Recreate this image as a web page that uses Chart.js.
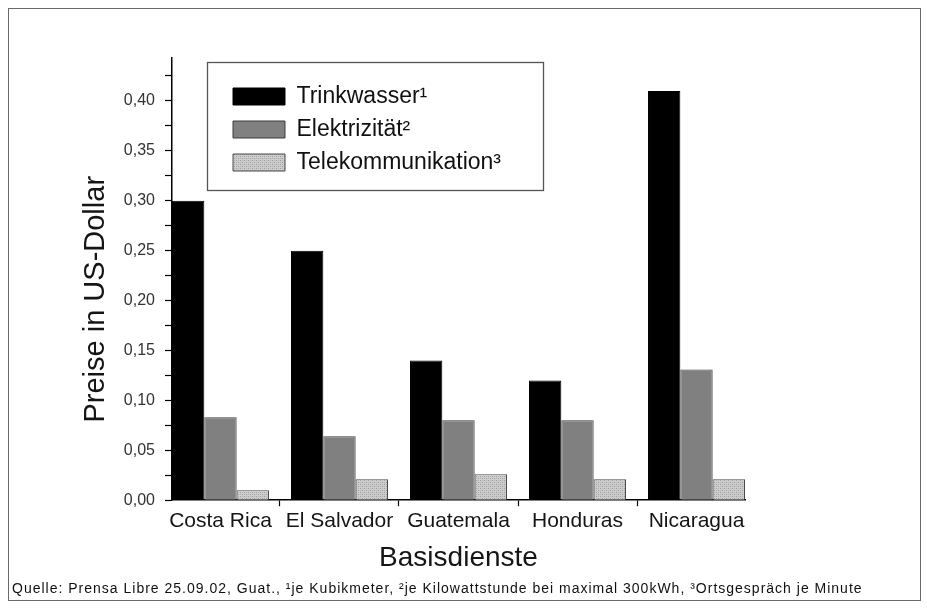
<!DOCTYPE html>
<html>
<head>
<meta charset="utf-8">
<script src="https://cdn.jsdelivr.net/npm/chart.js@4/dist/chart.umd.min.js"></script>
<style>
  html, body { margin: 0; padding: 0; background: #fff; }
  #frame { position: absolute; left: 8px; top: 8px; width: 913px; height: 593px; border: 1.5px solid #6a6a6a; box-sizing: border-box; }
  #wrap { position: absolute; left: 0; top: 0; width: 927px; height: 612px; }
  #note { position: absolute; left: 12px; top: 580px; font-family: "Liberation Sans", Arial, sans-serif; font-size: 14px; line-height: 16px; letter-spacing: 1px; color: #111; white-space: nowrap; }
</style>
</head>
<body>
<div id="frame"></div>
<div id="wrap"><canvas id="c" width="927" height="612"></canvas></div>
<div id="note">Quelle: Prensa Libre 25.09.02, Guat., ¹je Kubikmeter, ²je Kilowattstunde bei maximal 300kWh, ³Ortsgespräch je Minute</div>
<script>
// ---- data ----
const categories = ['Costa Rica', 'El Salvador', 'Guatemala', 'Honduras', 'Nicaragua'];
const seriesNames = ['Trinkwasser¹', 'Elektrizität²', 'Telekommunikation³'];
const trinkwasser = [0.30, 0.25, 0.14, 0.12, 0.41];
const elektrizitaet = [0.083, 0.064, 0.080, 0.080, 0.131];
const telekommunikation = [0.010, 0.021, 0.026, 0.021, 0.021];
const yTickValues = [0.00, 0.05, 0.10, 0.15, 0.20, 0.25, 0.30, 0.35, 0.40];
const yTickLabels = ['0,00', '0,05', '0,10', '0,15', '0,20', '0,25', '0,30', '0,35', '0,40'];

// ---- styles ----
const FONT = '"Liberation Sans", Arial, Helvetica, sans-serif';
function dotPattern() {
  const p = document.createElement('canvas');
  p.width = 4; p.height = 4;
  const g = p.getContext('2d');
  g.fillStyle = '#cdcdcd'; g.fillRect(0, 0, 4, 4);
  g.fillStyle = '#9c9c9c';
  g.fillRect(0, 0, 1, 1); g.fillRect(2, 2, 1, 1);
  g.fillStyle = '#b4b4b4';
  g.fillRect(2, 0, 1, 1); g.fillRect(0, 2, 1, 1);
  return document.getElementById('c').getContext('2d').createPattern(p, 'repeat');
}
const GROUP = 0.815;   // fraction of category spacing used by a bar group

const toPoints = arr => arr.map((v, i) => ({ x: i + 1, y: v }));

const legendFrame = {
  id: 'legendFrame',
  afterLayout(chart) {
    const lg = chart.legend, ca = chart.chartArea;
    if (!lg) return;
    lg.left = ca.left + 51; lg.right = lg.left + lg.width;
    lg.top = ca.top + 17;
  },
  afterDraw(chart) {
    const lg = chart.legend;
    if (!lg) return;
    const lo = lg.options.labels;
    const pad = lo.padding;
    const fs = lo.font.size;
    const boxH = lo.boxHeight;
    const n = lg.legendItems.length;
    const maxW = Math.max(...lg.legendHitBoxes.map(h => h.width));
    const x0 = lg.left + pad - 26;
    const y0 = lg.top + pad + (fs - boxH) / 2 - 26;
    const x1 = lg.left + pad + maxW + 42;
    const y1 = lg.top + pad + (fs - boxH) / 2 + (n - 1) * (fs + pad) + boxH + 19;
    const ctx = chart.ctx;
    ctx.save();
    ctx.strokeStyle = '#555';
    ctx.lineWidth = 1.3;
    ctx.strokeRect(Math.round(x0) + 0.5, Math.round(y0) + 0.5, Math.round(x1 - x0), Math.round(y1 - y0));
    ctx.restore();
  }
};

new Chart(document.getElementById('c'), {
  type: 'bar',
  data: {
    datasets: [
      { label: seriesNames[0], data: toPoints(trinkwasser), backgroundColor: '#000000', borderColor: '#000000', borderWidth: 1 },
      { label: seriesNames[1], data: toPoints(elektrizitaet), backgroundColor: '#808080', borderColor: '#3c3c3c', borderWidth: 1 },
      { label: seriesNames[2], data: toPoints(telekommunikation), backgroundColor: dotPattern(), borderColor: '#4a4a4a', borderWidth: 1 }
    ]
  },
  options: {
    responsive: false,
    animation: false,
    devicePixelRatio: 1,
    datasets: { bar: { categoryPercentage: GROUP, barPercentage: 1.0 } },
    layout: { padding: { left: 0, right: 182, top: 58, bottom: 37 } },
    plugins: {
      legend: {
        position: 'chartArea',
        align: 'start',
        labels: {
          boxWidth: 52, boxHeight: 17, padding: 10,
          color: '#111',
          font: { family: FONT, size: 23 }
        }
      },
      tooltip: { enabled: false }
    },
    scales: {
      x: {
        type: 'linear',
        min: 1 - GROUP / 2,
        max: categories.length + GROUP / 2,
        offset: false,
        afterBuildTicks: s => { s.ticks = categories.map((c, i) => ({ value: i + 1 })); },
        border: { display: true, color: '#000', width: 1.5 },
        grid: { offset: true, drawOnChartArea: false, drawTicks: true, tickLength: 6, color: '#000', tickWidth: 1.2 },
        ticks: {
          autoSkip: false, maxRotation: 0, padding: 2, color: '#151515',
          font: { family: FONT, size: 21 },
          callback: v => categories[Math.round(v) - 1]
        },
        title: { display: true, text: 'Basisdienste', color: '#151515', font: { family: FONT, size: 28 }, padding: { top: 6, bottom: 0 } }
      },
      y: {
        min: 0,
        max: 0.443,
        afterFit: s => { s.width = 172; },
        border: { display: true, color: '#000', width: 1.5 },
        grid: { drawOnChartArea: false, drawTicks: true, tickLength: 7, color: '#000', tickWidth: 1.2 },
        ticks: {
          stepSize: 0.025,
          includeBounds: false,
          autoSkip: false,
          padding: 10,
          color: '#333',
          font: { family: FONT, size: 16 },
          callback: v => {
            const i = yTickValues.findIndex(t => Math.abs(t - v) < 1e-6);
            return i >= 0 ? yTickLabels[i] : '';
          }
        },
        title: { display: true, text: 'Preise in US-Dollar\u00A0\u00A0\u00A0\u00A0\u00A0', color: '#151515', font: { family: FONT, size: 29 }, padding: { top: 79, bottom: 0 } }
      }
    }
  },
  plugins: [legendFrame]
});
</script>
</body>
</html>
